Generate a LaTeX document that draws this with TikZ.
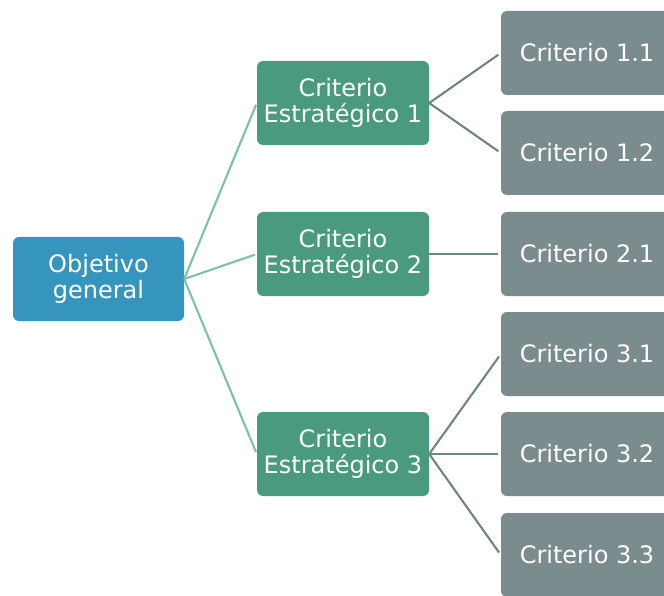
\documentclass[tikz,border=0pt]{standalone}
\usepackage{fontspec}
\setmainfont{DejaVu Sans}
\definecolor{rootblue}{HTML}{3595BC}
\definecolor{midgreen}{HTML}{4A9A7E}
\definecolor{leafgray}{HTML}{7A8C8D}
\definecolor{linkteal}{HTML}{7CC1A8}
\definecolor{linkgray}{HTML}{6F8583}
\begin{document}
\begin{tikzpicture}[x=1pt,y=-1pt,
  box/.style={rectangle, rounded corners=6pt, minimum width=172pt, minimum height=84pt,
    inner sep=0pt, text=white, align=center,
    font=\fontsize{24}{26}\selectfont},
  rootbox/.style={box, fill=rootblue, minimum width=171pt},
  midbox/.style={box, fill=midgreen},
  leafbox/.style={box, fill=leafgray},
  tealink/.style={draw=linkteal, line width=2.1pt, shorten >=2pt},
  graylink/.style={draw=linkgray, line width=2.1pt, shorten >=3pt}]
\useasboundingbox (0,0) rectangle (664,596);
\clip (0,0) rectangle (664,596);

\node[rootbox] (root) at (98.5,279) {Objetivo\\general};

\node[midbox] (c1) at (343,103) {Criterio\\Estratégico 1};
\node[midbox] (c2) at (343,254) {Criterio\\Estratégico 2};
\node[midbox] (c3) at (343,454) {Criterio\\Estratégico 3};

\node[leafbox] (l11) at (587,53)  {Criterio 1.1};
\node[leafbox] (l12) at (587,153) {Criterio 1.2};
\node[leafbox] (l21) at (587,254) {Criterio 2.1};
\node[leafbox] (l31) at (587,354) {Criterio 3.1};
\node[leafbox] (l32) at (587,454) {Criterio 3.2};
\node[leafbox] (l33) at (587,555) {Criterio 3.3};

\foreach \m in {c1,c2,c3}
  \draw[tealink] (root.east) -- (\m.west);

\draw[graylink] (c1.east) -- (l11.west);
\draw[graylink] (c1.east) -- (l12.west);
\draw[graylink] (c2.east) -- (l21.west);
\draw[graylink] (c3.east) -- (l31.west);
\draw[graylink] (c3.east) -- (l32.west);
\draw[graylink] (c3.east) -- (l33.west);
\end{tikzpicture}
\end{document}
